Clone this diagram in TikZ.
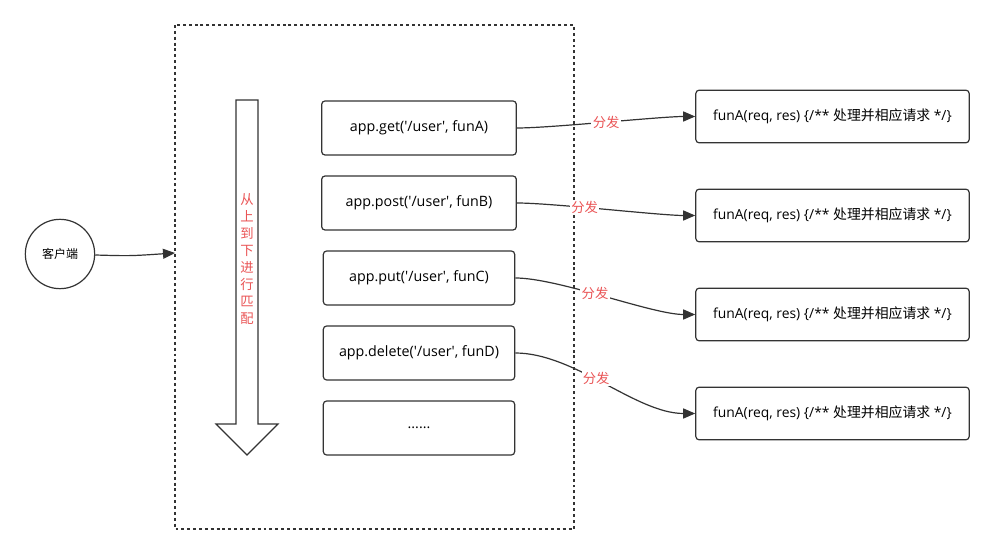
\documentclass[tikz,border=0pt]{standalone}
\usepackage{fontspec}
\setmainfont{Open Sans}
\newfontfamily\cjk{Noto Sans CJK SC}
\usepackage{xcolor}
\usepackage{tikz}
\usetikzlibrary{arrows.meta}

\definecolor{linegray}{RGB}{51,51,51}
\definecolor{labelred}{RGB}{234,84,85}
\newcommand{\q}{\textquotesingle}

\tikzset{
    box/.style={draw=linegray,rounded corners=2.5pt,line width=0.9pt,font=\fontsize{10.7}{13}\selectfont},
    route/.style={box,minimum width=146pt,minimum height=40.5pt},
    handler/.style={box,minimum width=205pt,minimum height=39.5pt,font=\fontsize{10.4}{13}\selectfont},
    fenfa/.style={fill=white,inner sep=1pt,text=labelred,font=\cjk\fontsize{10}{12}\selectfont},
    flow/.style={draw=linegray,line width=0.9pt,-{Triangle[length=9pt,width=7.5pt]}}
}

\begin{document}
\begin{tikzpicture}[x=0.75pt,y=-0.75pt]
        \useasboundingbox (0,0) rectangle (995,555);

        % client and the app box
        \node[draw=linegray,circle,line width=0.9pt,minimum size=52pt,inner sep=0pt,font=\cjk\fontsize{9}{11}\selectfont] (client) at (60,254) {客户端};
        \draw[linegray,line width=1pt,dash pattern=on 2.2pt off 2.2pt] (175,25) rectangle (574,529);
        \coordinate (appin) at (175,253);

        % top-down matching arrow
        \draw[linegray,line width=0.9pt,fill=white] (236,100) -- (258,100) -- (258,424) -- (278,424) -- (247,455) -- (216,424) -- (236,424) -- cycle;
        \node[text=labelred,align=center,font=\cjk\fontsize{10}{12.7}\selectfont,inner sep=0pt] (order) at (247,259) {从\\上\\到\\下\\进\\行\\匹\\配};

        \node[route] (r1) at (419,128) {app.get(\q/user\q, funA)};
        \node[route] (r2) at (419,203) {app.post(\q/user\q, funB)};
        \node[route,minimum width=143.5pt] (r3) at (419,278) {app.put(\q/user\q, funC)};
        \node[route,minimum width=143.5pt] (r4) at (419,353) {app.delete(\q/user\q, funD)};
        \node[route,minimum width=143.5pt] (r5) at (419,428) {......};

        \foreach \y[count=\yi] in {116.5,215.5,314.5,413.5}
            \node[handler] (h\yi) at (832.5,\y) {funA(req, res) \{/** {\cjk 处理并相应请求} */\}};

        \draw[flow] (client) .. controls (130,256) .. (appin);
        \draw[flow] (r1.east) to[out=0,in=180,looseness=0.5] node[fenfa] {分发} (h1.west);
        \draw[flow] (r2.east) to[out=0,in=180,looseness=0.5] node[fenfa,pos=0.4] {分发} (h2.west);
        \draw[flow] (r3.east) to[out=0,in=180,looseness=0.6] node[fenfa,pos=0.45] {分发} (h3.west);
        \draw[flow] (r4.east) to[out=0,in=180,looseness=0.8] node[fenfa,pos=0.45] {分发} (h4.west);

    \end{tikzpicture}
\end{document}
